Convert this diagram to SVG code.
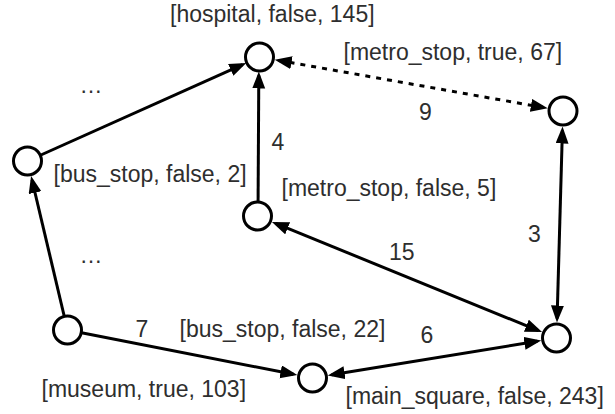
<svg xmlns="http://www.w3.org/2000/svg" width="615" height="414" viewBox="0 0 615 414">
  <style>
    .edge { fill: none; stroke: #000; stroke-width: 3; }
    .dotted { stroke-dasharray: 5 6; }
    .node { fill: #fff; stroke: #000; stroke-width: 3; }
    text { font-family: "Liberation Sans", Arial, sans-serif; font-size: 23px; fill: #2e2e2e; }
  </style>
  <defs>
    <marker id="arrow" markerUnits="userSpaceOnUse" markerWidth="18" markerHeight="14"
            refX="13" refY="6.5" orient="auto-start-reverse">
      <path d="M0,0 L17,6.5 L0,13 z" fill="#000"/>
    </marker>
  </defs>
  <rect width="615" height="414" fill="#fff"/>

  <!-- connectors and their weights -->
  <g id="connectors">
    <path class="edge" d="M27.5,161 L242.6,64.6" marker-end="url(#arrow)"/>
    <path class="edge" d="M258,216 L258.8,75.5" marker-end="url(#arrow)"/>
    <path class="edge dotted" d="M278.7,60.4 L543.8,107.6" marker-start="url(#arrow)" marker-end="url(#arrow)"/>
    <path class="edge" d="M562.4,130.5 L557.1,318.5" marker-start="url(#arrow)" marker-end="url(#arrow)"/>
    <path class="edge" d="M275.6,223.4 L538.4,330.6" marker-start="url(#arrow)" marker-end="url(#arrow)"/>
    <path class="edge" d="M67.5,330 L32,180" marker-end="url(#arrow)"/>
    <path class="edge" d="M67.5,330 L293.4,374.3" marker-end="url(#arrow)"/>
    <path class="edge" d="M331.7,374.8 L537.3,341.2" marker-start="url(#arrow)" marker-end="url(#arrow)"/>

    <text x="91" y="93" text-anchor="middle">…</text>
    <text x="271.5" y="150">4</text>
    <text x="419" y="120">9</text>
    <text x="91" y="263" text-anchor="middle">…</text>
    <text x="528" y="241.5">3</text>
    <text x="389" y="260">15</text>
    <text x="135.5" y="336.5">7</text>
    <text x="420.5" y="343">6</text>
  </g>

  <g id="hospital">
    <circle class="node" cx="259.5" cy="57" r="14"/>
    <text x="170" y="22">[hospital, false, 145]</text>
  </g>
  <g id="metro-stop-67">
    <circle class="node" cx="563" cy="111" r="14"/>
    <text x="343.5" y="60">[metro_stop, true, 67]</text>
  </g>
  <g id="bus-stop-2">
    <circle class="node" cx="27.5" cy="161" r="14"/>
    <text x="53.5" y="182">[bus_stop, false, 2]</text>
  </g>
  <g id="metro-stop-5">
    <circle class="node" cx="257.5" cy="216" r="14"/>
    <text x="281.5" y="196">[metro_stop, false, 5]</text>
  </g>
  <g id="museum">
    <circle class="node" cx="67.5" cy="330" r="14"/>
    <text x="41.5" y="397">[museum, true, 103]</text>
  </g>
  <g id="bus-stop-22">
    <circle class="node" cx="312.5" cy="378" r="14"/>
    <text x="179.5" y="337">[bus_stop, false, 22]</text>
  </g>
  <g id="main-square">
    <circle class="node" cx="556.5" cy="338" r="14"/>
    <text x="345.5" y="403.5">[main_square, false, 243]</text>
  </g>
</svg>
